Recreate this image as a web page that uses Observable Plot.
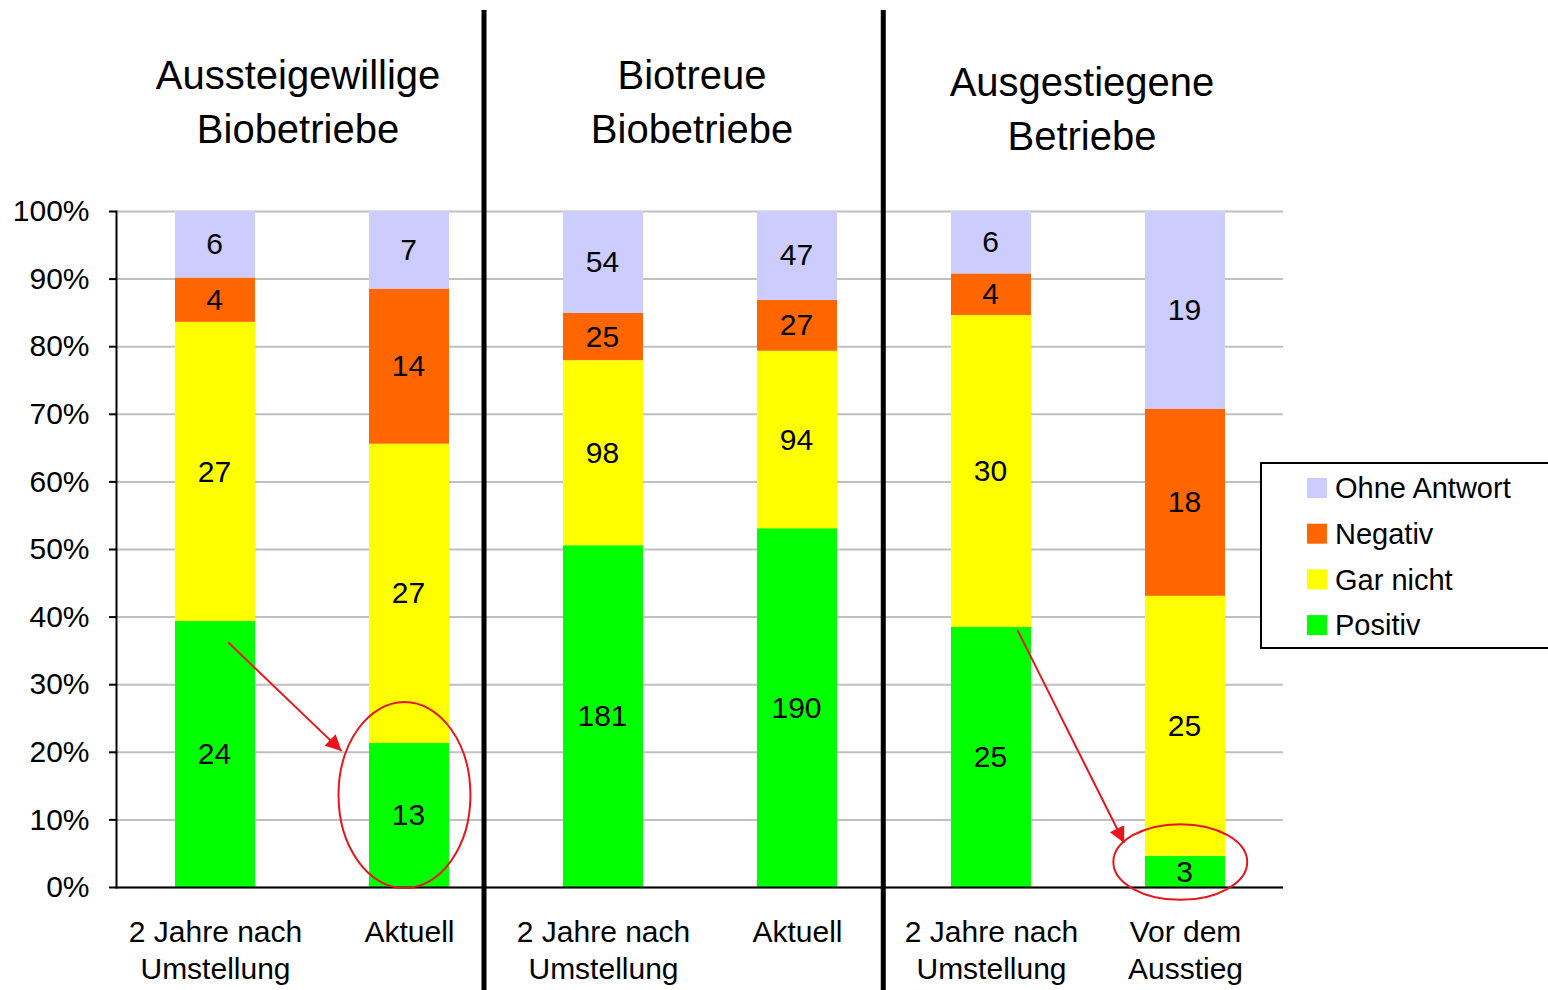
<!DOCTYPE html>
<html>
<head>
<meta charset="utf-8">
<script src="https://cdn.jsdelivr.net/npm/d3@7"></script>
<script src="https://cdn.jsdelivr.net/npm/@observablehq/plot@0.6"></script>
<style>
  html, body { margin: 0; padding: 0; background: #fff; }
  #chart svg { display: block; }
</style>
</head>
<body>
<div id="chart"></div>
<script>
// ---- data ----
const bars = ["g1a", "g1b", "g2a", "g2b", "g3a", "g3b"];
const barLabels = ["2 Jahre nach\nUmstellung", "Aktuell", "2 Jahre nach\nUmstellung", "Aktuell", "2 Jahre nach\nUmstellung", "Vor dem\nAusstieg"];
const groupTitles = ["Aussteigewillige\nBiobetriebe", "Biotreue\nBiobetriebe", "Ausgestiegene\nBetriebe"];
const categories = ["Positiv", "Gar nicht", "Negativ", "Ohne Antwort"];
const colors = ["#00FF00", "#FFFF00", "#FF6600", "#CCCCFF"];
const positiv = [24, 13, 181, 190, 25, 3];
const garNicht = [27, 27, 98, 94, 30, 25];
const negativ = [4, 14, 25, 27, 4, 18];
const ohneAntwort = [6, 7, 54, 47, 6, 19];
const yTicks = [0, 0.1, 0.2, 0.3, 0.4, 0.5, 0.6, 0.7, 0.8, 0.9, 1];

// annotations (x in bar slots, y in share)
const arrows = [
  {x1: 0.578, y1: 0.362, x2: 1.163, y2: 0.201},
  {x1: 4.647, y1: 0.380, x2: 5.197, y2: 0.065}
];
const ellipses = [
  {cx: 1.487, cy: 0.136, rx: 0.34, ry: 0.1376},
  {cx: 5.486, cy: 0.037, rx: 0.345, ry: 0.056}
];
const dividerSlots = [1.897, 3.955];

// ---- table ----
const series = [positiv, garNicht, negativ, ohneAntwort];
const rows = [];
bars.forEach((b, i) => {
  categories.forEach((c, j) => rows.push({bar: b, cat: c, value: series[j][i]}));
});

const font = "'Liberation Sans', Arial, Helvetica, sans-serif";
const W = 1548, H = 990;
const mL = 116, mR = 265, mT = 211, mB = 103;

const stackOpts = {offset: "normalize", order: categories};

const plot = Plot.plot({
  width: W,
  height: H,
  marginLeft: mL,
  marginRight: mR,
  marginTop: mT,
  marginBottom: mB,
  style: {fontFamily: font, fontSize: "30px", color: "#000", background: "#fff"},
  x: {domain: bars, paddingInner: 0.588, paddingOuter: 0.294, label: null},
  y: {domain: [0, 1], label: null},
  color: {domain: categories, range: colors},
  marks: [
    Plot.gridY(yTicks, {stroke: "#c0c0c0", strokeOpacity: 1, strokeWidth: 2}),
    Plot.barY(rows, Plot.stackY(stackOpts, {x: "bar", y: "value", z: "cat", fill: "cat"})),
    Plot.text(rows, Plot.stackY(stackOpts, {x: "bar", y: "value", z: "cat", text: "value", fill: "#000", fontSize: 30, dx: -1})),
    Plot.axisY({ticks: yTicks, tickFormat: d3.format(".0%"), tickSize: 7, tickPadding: 20, fontSize: 30, stroke: "#000", strokeWidth: 2, label: null}),
    Plot.axisX({tickSize: 0, tickPadding: 28, tickFormat: d => barLabels[bars.indexOf(d)], fontSize: 30, lineHeight: 1.23, label: null}),
    Plot.frame({anchor: "left", stroke: "#000", strokeWidth: 2}),
    Plot.ruleY([0], {stroke: "#000", strokeWidth: 2})
  ]
});

document.getElementById("chart").appendChild(plot);

// ---- overlays using the plot's scales ----
const xs = plot.scale("x");
const ys = plot.scale("y");
const step = xs.step;
const x0 = xs.range[0];
const sx = s => x0 + s * step;
const sy = v => ys.apply(v);
const svg = d3.select(plot);

// group dividers
dividerSlots.forEach(s => {
  svg.append("line")
    .attr("x1", sx(s)).attr("x2", sx(s))
    .attr("y1", 10).attr("y2", H)
    .attr("stroke", "#000").attr("stroke-width", 5);
});

// group titles
const titleDy = [0, 0, 7];
const titleDx = [-14, -8, -6];
groupTitles.forEach((t, i) => {
  const cx = (xs.apply(bars[2 * i]) + xs.apply(bars[2 * i + 1]) + xs.bandwidth) / 2 + titleDx[i];
  const txt = svg.append("text")
    .attr("text-anchor", "middle")
    .attr("font-family", font)
    .attr("font-size", 40)
    .attr("fill", "#000");
  t.split("\n").forEach((line, k) => {
    txt.append("tspan").attr("x", cx).attr("y", 89 + titleDy[i] + k * 54).text(line);
  });
});

// red arrows
const red = "#E8161C";
const defs = svg.append("defs");
defs.append("marker")
  .attr("id", "ah").attr("viewBox", "0 0 10 10")
  .attr("refX", 10).attr("refY", 5)
  .attr("markerUnits", "userSpaceOnUse")
  .attr("orient", "auto")
  .attr("markerWidth", 22).attr("markerHeight", 16)
  .append("path").attr("d", "M0,0 L10,5 L0,10 Z").attr("fill", red);
arrows.forEach(a => {
  svg.append("line")
    .attr("x1", sx(a.x1)).attr("y1", sy(a.y1))
    .attr("x2", sx(a.x2)).attr("y2", sy(a.y2))
    .attr("stroke", red).attr("stroke-width", 2)
    .attr("marker-end", "url(#ah)");
});
ellipses.forEach(e => {
  svg.append("ellipse")
    .attr("cx", sx(e.cx)).attr("cy", sy(e.cy))
    .attr("rx", e.rx * step).attr("ry", sy(0) - sy(e.ry))
    .attr("fill", "none").attr("stroke", red).attr("stroke-width", 2);
});

// legend
const lg = svg.append("g").attr("font-family", font).attr("font-size", 29).attr("text-anchor", "start");
const lx = 1261, ly = 463, lw = 300, lh = 185;
lg.append("rect").attr("x", lx).attr("y", ly).attr("width", lw).attr("height", lh)
  .attr("fill", "#fff").attr("stroke", "#000").attr("stroke-width", 2);
const legendOrder = categories.slice().reverse();
legendOrder.forEach((c, i) => {
  const cy = ly + 25 + i * 45.7;
  lg.append("rect").attr("x", lx + 46).attr("y", cy - 10).attr("width", 20).attr("height", 20)
    .attr("fill", colors[categories.indexOf(c)]);
  lg.append("text").attr("x", lx + 74).attr("y", cy).attr("dy", "0.35em")
    .attr("text-anchor", "start").attr("fill", "#000").text(c);
});
</script>
</body>
</html>
